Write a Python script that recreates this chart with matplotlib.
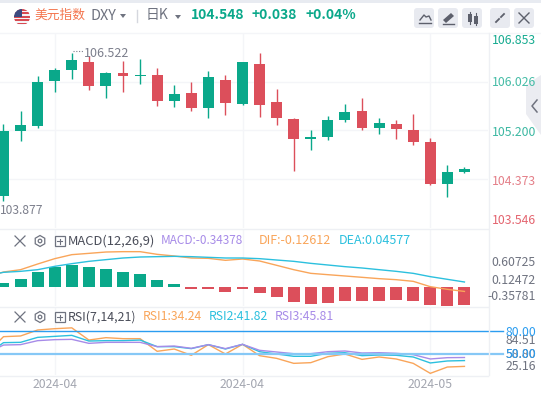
import matplotlib
matplotlib.use('Agg')
import matplotlib.pyplot as plt
from matplotlib.patches import Polygon, Rectangle, FancyBboxPatch, RegularPolygon, Circle

plt.rcParams['font.family'] = ['Noto Sans CJK SC', 'DejaVu Sans']

UP = '#0aa88a'
DOWN = '#dc4f5b'
GRID = '#f4f5f8'
ORANGE = '#f9a55a'
CYAN = '#2cc0de'
PURPLE = '#a78be8'

# daily candles
opens = [104.088, 105.196, 105.275, 106.044, 106.225, 106.361, 105.954, 106.174, 106.124, 106.141,
         105.700, 105.835, 105.581, 106.056, 105.649, 106.327, 105.683, 105.394, 105.055, 105.089,
         105.377, 105.530, 105.242, 105.309, 105.208, 105.004, 104.292, 104.495]
closes = [105.191, 105.292, 106.022, 106.225, 106.395, 105.954, 106.174, 106.124, 106.141, 105.700,
          105.818, 105.581, 106.107, 105.666, 106.361, 105.632, 105.411, 105.055, 105.089, 105.377,
          105.513, 105.242, 105.326, 105.225, 105.004, 104.292, 104.495, 104.548]
highs = [105.309, 105.530, 106.124, 106.259, 106.522, 106.463, 106.197, 106.378, 106.412, 106.259,
         105.971, 106.022, 106.208, 106.141, 106.361, 106.514, 105.903, 105.411, 105.208, 105.445,
         105.649, 105.750, 105.411, 105.377, 105.479, 105.072, 104.614, 104.580]
lows = [104.008, 105.026, 105.242, 105.857, 106.073, 105.886, 105.750, 105.852, 105.988, 105.615,
        105.598, 105.530, 105.411, 105.462, 105.632, 105.428, 105.292, 104.512, 104.868, 105.038,
        105.343, 105.208, 105.140, 105.055, 104.953, 104.275, 104.071, 104.478]
price_ticks = [106.853, 106.026, 105.200, 104.373, 103.546]

# macd pane, the lines start one day left of the first candle
hist = [.114, .227, .426, .568, .625, .568, .511, .426, .369, .199, .085, -.057, -.057, -.142,
        -.057, -.170, -.284, -.426, -.483, -.455, -.398, -.398, -.398, -.369, -.398, -.511, -.540, -.511]
dif = [.284, .426, .492, .653, .805, .919, .956, .994, 1.004, 1.004, .928, .881, .824, .814, .758,
       .795, .739, .616, .492, .388, .350, .313, .275, .237, .208, .161, .009, -.066, -.126]
dea = [.322, .417, .445, .492, .587, .663, .729, .777, .824, .852, .862, .871, .862, .843, .824,
       .824, .805, .767, .729, .672, .625, .578, .540, .492, .445, .388, .294, .218, .142]

# rsi pane, same offset as macd lines
rsi1 = [50.8, 73.0, 73.9, 81.7, 83.4, 84.51, 68.6, 71.7, 70.4, 70.4, 53.9, 56.9, 48.7, 62.6, 50.4,
        63.0, 48.2, 44.7, 38.2, 39.1, 46.9, 50.4, 43.4, 46.5, 43.9, 38.2, 25.16, 33.4, 34.24]
rsi2 = [49.5, 65.2, 65.6, 72.1, 73.4, 74.7, 67.3, 67.8, 67.8, 68.6, 60.0, 60.0, 57.4, 62.6, 56.9,
        63.0, 53.4, 50.4, 47.4, 47.4, 51.3, 52.1, 48.2, 49.1, 48.7, 46.5, 38.7, 41.3, 41.82]
rsi3 = [51.3, 62.1, 62.6, 67.8, 69.1, 69.5, 64.3, 65.6, 65.6, 65.6, 60.0, 60.8, 57.8, 62.6, 57.4,
        63.0, 55.2, 53.0, 50.8, 50.8, 53.4, 54.3, 51.7, 52.1, 51.3, 49.5, 43.9, 45.6, 45.81]
rsi_levels = [80, 50]

date_pos = [3, 14, 25]
date_labels = ['2024-04', '2024-04', '2024-05']

W, H = 541, 395
fig = plt.figure(figsize=(W / 100, H / 100), dpi=100)
xs = list(range(len(opens)))
xs_line = list(range(-1, len(opens)))


def pane(top, bottom):
    ax = fig.add_axes([0, 1 - bottom / H, 488 / W, (bottom - top) / H])
    ax.set_xlim(-0.205, 28.38)
    ax.set_xticks(date_pos)
    ax.set_xticklabels([])
    ax.grid(True, color=GRID, lw=1)
    ax.set_axisbelow(True)
    ax.tick_params(length=0, labelleft=False, labelbottom=False)
    for s in ax.spines.values():
        s.set_visible(False)
    return ax


# price
ax = pane(33, 228)
ax.set_ylim(103.546, 106.853)
ax.set_yticks(price_ticks[1:-1])
for i in xs:
    c = UP if closes[i] >= opens[i] else DOWN
    ax.plot([i, i], [lows[i], highs[i]], color=c, lw=1, solid_capstyle='butt')
    ax.bar(i, abs(closes[i] - opens[i]), bottom=min(opens[i], closes[i]), width=0.64, color=c)

# macd
ax2 = pane(229, 306)
ax2.set_ylim(-0.540, 1.648)
ax2.set_yticks([])
ax2.bar(xs, hist, width=0.7, color=[UP if v >= 0 else DOWN for v in hist])
ax2.plot(xs_line, dif, color=ORANGE, lw=1)
ax2.plot(xs_line, dea, color=CYAN, lw=1)

# rsi
ax3 = pane(307, 375)
ax3.set_ylim(23.0, 111.7)
ax3.set_yticks([])
ax3.plot(xs_line, rsi1, color=ORANGE, lw=1)
ax3.plot(xs_line, rsi2, color=CYAN, lw=1)
ax3.plot(xs_line, rsi3, color=PURPLE, lw=1)
ax3.plot([-0.205, 28.38 + 0.88], [rsi_levels[0]] * 2, color='#2b9df0', lw=1, clip_on=False)
ax3.plot([-0.205, 28.38 + 0.88], [rsi_levels[1]] * 2, color='#86c8f6', lw=1.6, clip_on=False)

# everything else is drawn on a pixel overlay
ui = fig.add_axes([0, 0, 1, 1], facecolor='none')
ui.set_xlim(0, W)
ui.set_ylim(H, 0)
ui.axis('off')


def txt(x, y, s, color, size=8.8, ha='left', **kw):
    ui.text(x, y, s, color=color, fontsize=size, ha=ha, va='center', **kw)


ui.add_patch(Rectangle((0, 0), W, 2.5, color='#e8ebf1', lw=0))
ui.plot([0, W], [32.5, 32.5], color=GRID, lw=1)
ui.plot([0, 488], [229, 229], color='#eef0f4', lw=1)
ui.plot([0, 488], [306.5, 306.5], color='#eef0f4', lw=1)
ui.plot([0, 488], [375.5, 375.5], color='#eef0f4', lw=1)
ui.plot([488.5, 488.5], [33, 375], color='#eef0f4', lw=1)

# side tab
ui.add_patch(Polygon([(541, 75), (526, 85), (526, 114), (541, 135)], color='#ebecf1', lw=0))
ui.plot([537, 532, 537], [100, 106, 112], color='#70737f', lw=1.1)

# header: flag, name, quote
flag = Circle((22, 17), 8, color='#f4f4f6', lw=0)
ui.add_patch(flag)
for k in range(5):
    st = Rectangle((14, 9 + k * 3.4), 16, 1.7, color='#d84a52', lw=0)
    ui.add_patch(st)
    st.set_clip_path(flag)
canton = Rectangle((14, 9), 8, 7.5, color='#3c4a80', lw=0)
ui.add_patch(canton)
canton.set_clip_path(flag)
txt(34.5, 15.5, '美元指数', '#f4764f', size=9.2)
txt(90, 16, 'DXY', '#6f7380', size=10.4)
ui.add_patch(Polygon([(120, 14), (126, 14), (123, 18)], color='#6f7380', lw=0))
ui.plot([136.5, 136.5], [10, 22], color='#d5d7de', lw=1)
txt(146, 15, '日K', '#6f7380', size=10)
ui.add_patch(Polygon([(175, 15), (181, 15), (178, 19)], color='#6f7380', lw=0))
txt(191, 15, '104.548', UP, size=10, fontweight='bold')
txt(251, 15, '+0.038', UP, size=10, fontweight='bold')
txt(305, 15, '+0.04%', UP, size=10, fontweight='bold')

# toolbar buttons
for bx in [414, 438, 462, 490, 514]:
    ui.add_patch(FancyBboxPatch((bx + 2, 10), 16, 16, boxstyle='round,pad=2,rounding_size=3',
                                fc='#e8eaf0', ec='none'))
ui.plot([420, 424, 426, 429, 431], [20, 15, 17, 16, 20], color='#5d606c', lw=1)
ui.plot([419, 431], [23, 23], color='#5d606c', lw=1)
ui.add_patch(Polygon([(443, 20), (451, 13), (454, 16), (446, 23)], color='#5d606c', lw=0))
ui.plot([443, 454], [24, 24], color='#5d606c', lw=1)
ui.add_patch(Rectangle((468, 14), 4, 8, color='#5d606c', lw=0))
ui.add_patch(Rectangle((474, 16), 4, 8, color='#5d606c', lw=0))
ui.plot([470, 470], [12, 24], color='#5d606c', lw=0.8)
ui.plot([476, 476], [13, 25], color='#5d606c', lw=0.8)
ui.plot([496, 499], [22, 19], color='#5d606c', lw=1.3)
ui.plot([501, 504], [17, 14], color='#5d606c', lw=1.3)
ui.plot([519, 529], [13, 23], color='#5d606c', lw=1)
ui.plot([519, 529], [23, 13], color='#5d606c', lw=1)

# price labels
for v, y, c in zip(price_ticks, [40.5, 82, 132, 181.5, 220.5], ['#16ab90', '#45bca6', '#3cb8a2', '#e47f88', '#e4646f']):
    txt(492, y, f'{v:.3f}', c, size=8.8)
txt(84, 53.5, '106.522', '#7c7f8c', size=9)
ui.plot([73, 83], [51, 51], color='#7c7f8c', lw=0.8, ls=(0, (1, 1.5)))
txt(0, 211, '103.877', '#7c7f8c', size=8.7)


def legend_icons(y):
    ui.plot([15, 25], [y - 5, y + 5], color='#6f7380', lw=0.9)
    ui.plot([15, 25], [y + 5, y - 5], color='#6f7380', lw=0.9)
    ui.add_patch(RegularPolygon((40, y), 6, radius=5.5, fc='none', ec='#6f7380', lw=0.9))
    ui.add_patch(Circle((40, y), 1.8, fc='none', ec='#6f7380', lw=0.9))
    ui.add_patch(Rectangle((54.5, y - 5), 10, 10, fc='none', ec='#6f7380', lw=0.9))
    ui.plot([57, 62], [y, y], color='#6f7380', lw=0.8)
    ui.plot([59.5, 59.5], [y - 2.5, y + 2.5], color='#6f7380', lw=0.8)


# macd legend + axis
legend_icons(241)
txt(68, 241, 'MACD(12,26,9)', '#4a4d59', size=9.3)
txt(161, 241, 'MACD:-0.34378', PURPLE, size=8.5)
txt(259, 241, 'DIF:-0.12612', ORANGE, size=9)
txt(338.5, 241, 'DEA:0.04577', CYAN, size=9)
for s, y in zip(['0.60725', '0.12472', '-0.35781'], [263, 280, 297]):
    txt(536, y, s, '#6f7380', ha='right', size=8.8)

# rsi legend + axis
legend_icons(317)
txt(68, 317, 'RSI(7,14,21)', '#4a4d59', size=8.9)
txt(142.5, 317, 'RSI1:34.24', ORANGE, size=8.8)
txt(209, 317, 'RSI2:41.82', CYAN, size=8.8)
txt(275, 317, 'RSI3:45.81', PURPLE, size=8.8)
txt(536, 340, '84.51', '#6f7380', ha='right', size=8.8)
txt(536, 332, '80.00', '#2b9df0', ha='right', size=8.8)
txt(536, 354, '58.80', '#6f7380', ha='right', size=8.8)
txt(536, 354, '50.00', '#2b9df0', ha='right', size=8.8)
txt(536, 367, '25.16', '#6f7380', ha='right', size=8.8)

# dates
for p, s in zip(date_pos, date_labels):
    txt(3.5 + 17.07 * p, 384, s, '#a3a6b0', ha='center', size=8.8)

fig.savefig('out.png', dpi=100)
